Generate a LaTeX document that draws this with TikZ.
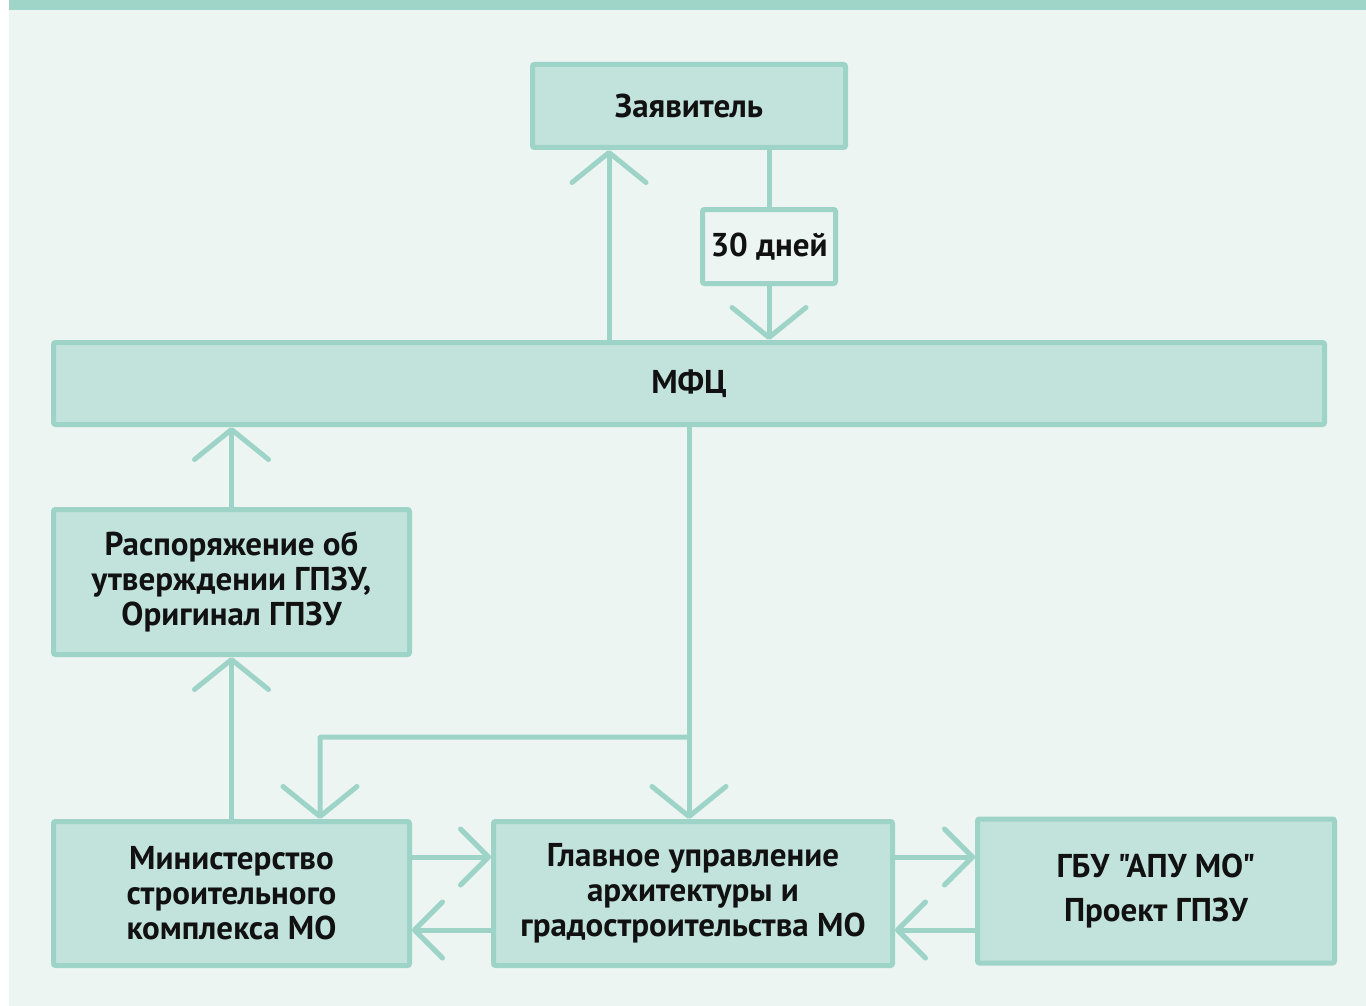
\documentclass[tikz,border=0pt]{standalone}
\usepackage{fontspec}
\setmainfont{PT Sans}[Ligatures=TeXOff]
\usetikzlibrary{arrows.meta}
\definecolor{bgmint}{HTML}{ECF5F2}
\definecolor{band}{HTML}{9FD4C9}
\definecolor{boxfill}{HTML}{C2E3DC}
\definecolor{boxline}{HTML}{9ED4C8}
\definecolor{txt}{HTML}{111111}
\tikzset{
  box/.style={draw=boxline, fill=boxfill, line width=5pt, rounded corners=2pt,
    inner sep=0pt, align=center, text=txt,
    font=\bfseries\fontsize{33}{35}\selectfont},
  daybox/.style={box, fill=bgmint},
  conn/.style={draw=boxline, line width=5pt},
  varr/.style={conn, -{Straight Barb[length=30pt,width=74pt,line cap=round,line join=round]}},
  harr/.style={conn, -{Straight Barb[length=28pt,width=56pt,line cap=round,line join=round]}}
}
\begin{document}
\begin{tikzpicture}[x=1pt,y=-1pt]
\useasboundingbox (0,0) rectangle (1366,1006);
\fill[white] (0,0) rectangle (1366,1006);
\fill[bgmint] (9,10) rectangle (1366,1006);
\fill[band] (9,0) rectangle (1366,10);

\node[box, minimum width=313pt, minimum height=83pt] (zayav) at (689,106) {Заявитель};
\node[daybox, minimum width=133pt, minimum height=74pt] (days) at (769,246.5) {30 дней};
\node[box, minimum width=1271pt, minimum height=82pt] (mfc) at (689,383.5) {МФЦ};
\node[box, minimum width=356pt, minimum height=145pt] (rasp) at (231.5,582) {Распоряжение об\\утверждении ГПЗУ,\\Оригинал ГПЗУ};
\node[box, minimum width=356pt, minimum height=144pt] (min) at (231.5,893.5) {Министерство\\строительного\\комплекса МО};
\node[box, minimum width=399pt, minimum height=144pt] (glav) at (693,893.5) {Главное управление\\архитектуры и\\градостроительства МО};
\node[box, minimum width=357pt, minimum height=144pt] (gbu) at (1156,891) {ГБУ "АПУ МО"\\[9pt]Проект ГПЗУ};

\coordinate (c1) at (609,0);
\coordinate (c2) at (689,0);
\coordinate (br) at (689,737);
\coordinate (kn) at (320,737);
\coordinate (h1) at (0,857);
\coordinate (h2) at (0,930);

\draw[varr] (mfc.north -| c1) -- (zayav.south -| c1);
\draw[conn] (zayav.south -| days) -- (days.north);
\draw[varr] (days.south) -- (mfc.north -| days);
\draw[varr] (rasp.north) -- (mfc.south -| rasp);
\draw[varr] (min.north) -- (rasp.south);
\draw[varr] (mfc.south -| c2) -- (glav.north -| c2);
\draw[varr, rounded corners=1pt] (br) -- (kn) -- (min.north -| kn);
\draw[harr] (min.east |- h1) -- (glav.west |- h1);
\draw[harr] (glav.west |- h2) -- (min.east |- h2);
\draw[harr] (glav.east |- h1) -- (gbu.west |- h1);
\draw[harr] (gbu.west |- h2) -- (glav.east |- h2);
\end{tikzpicture}
\end{document}
